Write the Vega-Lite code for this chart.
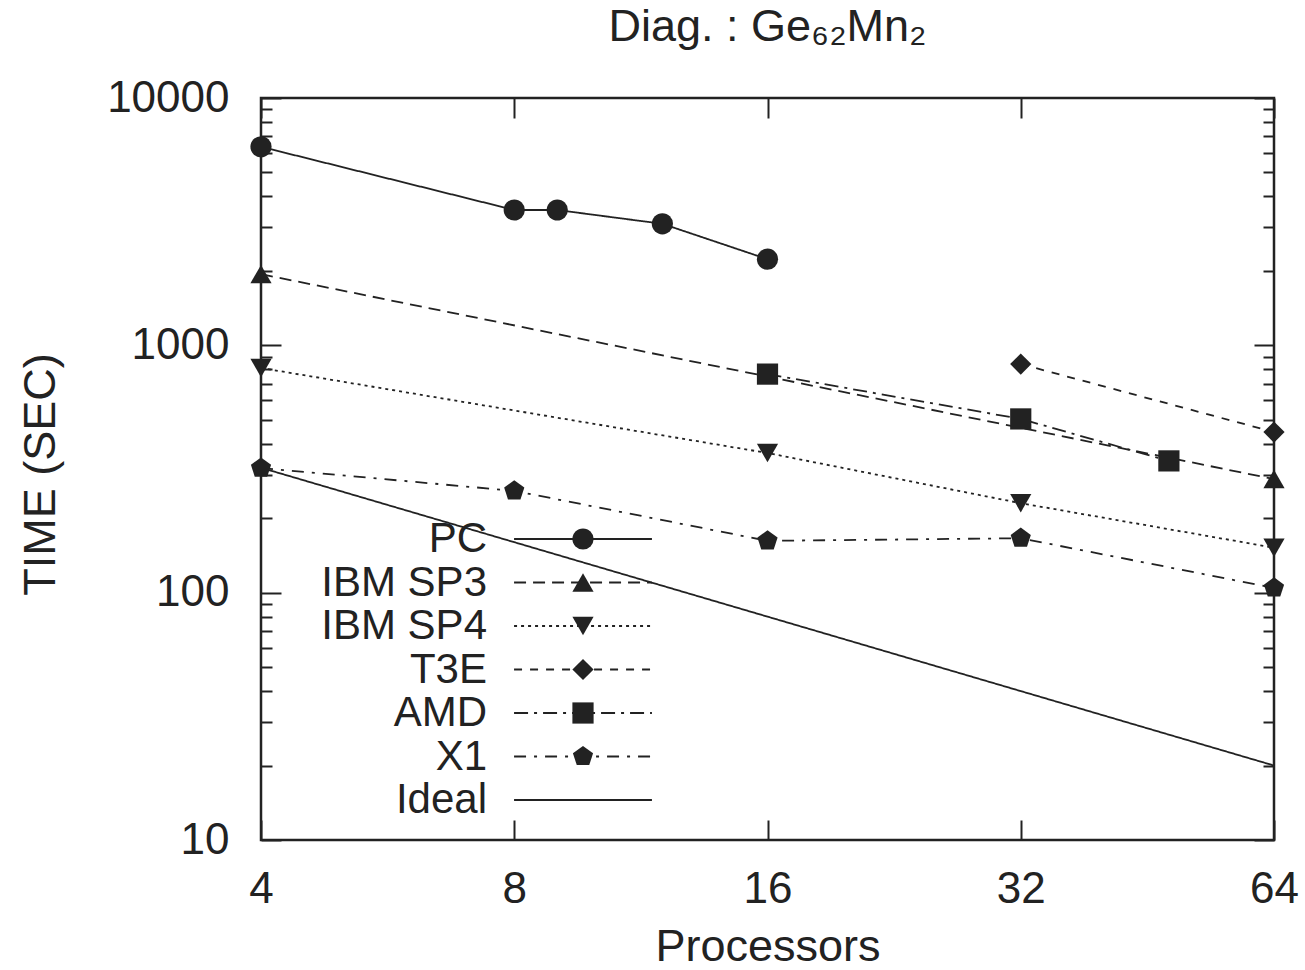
{
  "$schema": "https://vega.github.io/schema/vega-lite/v6.json",
  "width": 1013,
  "height": 742,
  "autosize": "none",
  "padding": {"left": 261, "top": 98, "right": 31, "bottom": 130},
  "background": "white",
  "title": {
    "text": "Diag. : Ge₆₂Mn₂",
    "font": "Liberation Sans",
    "fontSize": 45,
    "fontWeight": "normal",
    "color": "#222",
    "anchor": "middle",
    "frame": "group",
    "baseline": "alphabetic",
    "offset": -10
  },
  "data": {
    "values": [
      {"series": "PC", "p": 4, "t": 6350},
      {"series": "PC", "p": 8, "t": 3525},
      {"series": "PC", "p": 9, "t": 3525},
      {"series": "PC", "p": 12, "t": 3100},
      {"series": "PC", "p": 16, "t": 2230},
      {"series": "IBM SP3", "p": 4, "t": 1940},
      {"series": "IBM SP3", "p": 64, "t": 288},
      {"series": "IBM SP4", "p": 4, "t": 810},
      {"series": "IBM SP4", "p": 16, "t": 367},
      {"series": "IBM SP4", "p": 32, "t": 230},
      {"series": "IBM SP4", "p": 64, "t": 152},
      {"series": "T3E", "p": 32, "t": 840},
      {"series": "T3E", "p": 64, "t": 446},
      {"series": "AMD", "p": 16, "t": 765},
      {"series": "AMD", "p": 32, "t": 504},
      {"series": "AMD", "p": 48, "t": 341},
      {"series": "X1", "p": 4, "t": 319},
      {"series": "X1", "p": 8, "t": 258},
      {"series": "X1", "p": 16, "t": 162},
      {"series": "X1", "p": 32, "t": 166},
      {"series": "X1", "p": 64, "t": 104.5},
      {"series": "Ideal", "p": 4, "t": 320},
      {"series": "Ideal", "p": 64, "t": 20}
    ]
  },
  "layer": [
    {
      "mark": {"type": "line", "color": "#222", "strokeWidth": 1.8},
      "encoding": {
        "x": {
          "field": "p", "type": "quantitative",
          "scale": {"type": "log", "base": 2, "domain": [4, 64], "nice": false},
          "axis": {
            "orient": "bottom", "values": [4, 8, 16, 32, 64], "format": "d",
            "tickSize": -20, "labelPadding": 47, "labelFlush": false, "labelOverlap": false,
            "title": "Processors", "titleY": 120, "titleBaseline": "alphabetic"
          }
        },
        "y": {
          "field": "t", "type": "quantitative",
          "scale": {"type": "log", "domain": [10, 10000], "nice": false},
          "axis": {
            "orient": "left", "values": [10, 100, 1000, 10000], "format": "d",
            "tickSize": -20, "labelPadding": 52, "labelFlush": false, "labelOverlap": false,
            "title": "TIME (SEC)", "titleX": -221, "titleY": 376, "titleAngle": -90,
            "titleBaseline": "middle", "titleAlign": "center"
          }
        },
        "strokeDash": {
          "field": "series", "type": "nominal",
          "scale": {
            "domain": ["PC", "IBM SP3", "IBM SP4", "T3E", "AMD", "X1", "Ideal"],
            "range": [[1, 0], [12, 7], [3, 4], [8, 8], [14, 6, 3, 6], [12, 8, 3, 8], [1, 0]]
          },
          "legend": {
            "orient": "none", "legendX": 301, "legendY": 420, "title": null,
            "symbolType": "M-6.5,0H6.5", "symbolSize": 450, "symbolStrokeWidth": 2,
            "symbolStrokeColor": "#222", "labelAlign": "right", "labelOffset": -117,
            "labelFontSize": 42, "labelFont": "Liberation Sans", "labelColor": "#222",
            "labelLimit": 0, "rowPadding": 1.5, "padding": 0
          }
        }
      }
    },
    {
      "transform": [{"filter": "datum.series != 'Ideal'"}],
      "mark": {"type": "point", "filled": true, "size": 450, "color": "#222", "opacity": 1},
      "encoding": {
        "x": {
          "field": "p", "type": "quantitative",
          "axis": {"orient": "top", "values": [4, 8, 16, 32, 64], "tickSize": -20, "labels": false, "title": null}
        },
        "y": {
          "field": "t", "type": "quantitative",
          "axis": {"orient": "right", "values": [10, 100, 1000, 10000], "tickSize": -20, "labels": false, "title": null}
        },
        "shape": {
          "field": "series", "type": "nominal",
          "scale": {
            "domain": ["PC", "IBM SP3", "IBM SP4", "T3E", "AMD", "X1"],
            "range": ["circle", "triangle-up", "triangle-down", "diamond", "square", "M0,-1L0.951,-0.309L0.588,0.809L-0.588,0.809L-0.951,-0.309Z"]
          },
          "legend": {
            "orient": "none", "legendX": 301, "legendY": 420, "title": null,
            "symbolSize": 450, "symbolFillColor": "#222", "symbolStrokeColor": "#222", "symbolStrokeWidth": 2,
            "labelExpr": "' '", "labelOpacity": 0, "labelFontSize": 42, "labelFont": "Liberation Sans",
            "labelAlign": "right", "labelOffset": -117,
            "labelLimit": 0, "rowPadding": 1.5, "padding": 0
          }
        }
      }
    },
    {
      "transform": [{"filter": "datum.t < 0"}],
      "mark": {"type": "point"},
      "encoding": {
        "x": {"field": "p", "type": "quantitative", "axis": null},
        "y": {
          "field": "t", "type": "quantitative",
          "axis": {
            "orient": "left",
            "values": [20, 30, 40, 50, 60, 70, 80, 90, 200, 300, 400, 500, 600, 700, 800, 900, 2000, 3000, 4000, 5000, 6000, 7000, 8000, 9000],
            "tickSize": -11, "labels": false, "title": null
          }
        }
      }
    },
    {
      "transform": [{"filter": "datum.t < 0"}],
      "mark": {"type": "point"},
      "encoding": {
        "x": {"field": "p", "type": "quantitative", "axis": null},
        "y": {
          "field": "t", "type": "quantitative",
          "axis": {
            "orient": "right",
            "values": [20, 30, 40, 50, 60, 70, 80, 90, 200, 300, 400, 500, 600, 700, 800, 900, 2000, 3000, 4000, 5000, 6000, 7000, 8000, 9000],
            "tickSize": -11, "labels": false, "title": null
          }
        }
      }
    }
  ],
  "resolve": {"axis": {"x": "independent", "y": "independent"}},
  "config": {
    "view": {"stroke": "#222", "strokeWidth": 2.5},
    "axis": {
      "domain": false, "grid": false, "tickColor": "#222", "tickWidth": 2,
      "labelFont": "Liberation Sans", "labelFontSize": 44, "labelColor": "#222",
      "titleFont": "Liberation Sans", "titleFontSize": 45, "titleFontWeight": "normal", "titleColor": "#222"
    }
  }
}
